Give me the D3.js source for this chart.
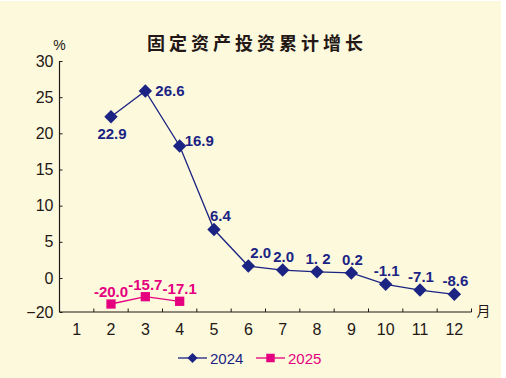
<!DOCTYPE html>
<html>
<head>
<meta charset="utf-8">
<script src="https://cdn.jsdelivr.net/npm/d3@7/dist/d3.min.js"></script>
<style>
  html, body { margin: 0; padding: 0; background: #fff; }
  svg { display: block; }
</style>
</head>
<body>
<svg id="chart"></svg>
<script>
const TITLE = '固定资产投资累计增长'

const months = [1, 2, 3, 4, 5, 6, 7, 8, 9, 10, 11, 12]
const yTicks = [30, 25, 20, 15, 10, 5, 0, -20]

// markers sit where the picture draws them; the printed labels are kept separately
const months2024 = [2, 3, 4, 5, 6, 7, 8, 9, 10, 11, 12]
const values2024 = [22.3, 25.85, 18.25, 6.7, 1.65, 1.1, 0.85, 0.7, -3.7, -7.1, -9.6]
const labels2024 = ['22.9', '26.6', '16.9', '6.4', '2.0', '2.0', '1. 2', '0.2', '-1.1', '-7.1', '-8.6']

const months2025 = [2, 3, 4]
const values2025 = [-15.3, -11.0, -13.7]
const labels2025 = ['-20.0', '-15.7', '-17.1']

const series = [
  { key: '2024', color: '#1b2483', shape: 'diamond', months: months2024, values: values2024, labels: labels2024 },
  { key: '2025', color: '#e4007f', shape: 'square', months: months2025, values: values2025, labels: labels2025 },
]

const width = 506
const height = 378
const margin = { top: 61, right: 34.5, bottom: 66, left: 59.5 }
const bg = '#fdf9dd'
const ink = '#231815'
const font = '"Liberation Sans", Arial, sans-serif'

const svg = d3.select('#chart').attr('width', width).attr('height', height)

svg.append('rect').attr('x', 0).attr('y', 1).attr('width', 501).attr('height', height - 1).attr('fill', bg)

const innerW = width - margin.left - margin.right
const innerH = height - margin.top - margin.bottom

const x = d3.scaleBand().domain(months).range([margin.left, margin.left + innerW]).padding(0)
// broken axis: the -20 tick sits one step below 0
const y = d3.scaleLinear().domain([-20, 0, 30]).range([margin.top + innerH, margin.top + innerH - 34, margin.top])

const g = svg.append('g')

// title and unit
svg.append('text')
  .attr('x', 257).attr('y', 50)
  .attr('text-anchor', 'middle')
  .attr('font-family', '"Noto Sans CJK SC", sans-serif')
  .attr('font-weight', 'bold')
  .attr('font-size', 18)
  .attr('letter-spacing', 4)
  .attr('fill', ink)
  .text(TITLE)

svg.append('text')
  .attr('x', 59.5).attr('y', 50)
  .attr('text-anchor', 'middle')
  .attr('font-family', font)
  .attr('font-size', 14)
  .attr('fill', ink)
  .text('%')

// y axis
const yAxisG = g.append('g').attr('transform', `translate(${margin.left},0)`)
  .call(d3.axisRight(y).tickValues(yTicks).tickSize(3).tickFormat(d3.format('d')))
yAxisG.select('.domain').remove()
yAxisG.selectAll('.tick line').attr('stroke', ink)
yAxisG.selectAll('.tick text')
  .attr('x', -6).attr('text-anchor', 'end')
  .attr('font-family', font).attr('font-size', 16).attr('fill', ink)
g.append('line')
  .attr('x1', margin.left).attr('x2', margin.left)
  .attr('y1', y(30)).attr('y2', y(-20))
  .attr('stroke', ink).attr('stroke-width', 1.2)

// x axis
const xAxisG = g.append('g').attr('transform', `translate(0,${y(-20)})`)
  .call(d3.axisBottom(x).tickSize(0).tickFormat(d3.format('d')))
xAxisG.select('.domain').remove()
xAxisG.selectAll('.tick text')
  .attr('y', 12).attr('dy', '0.71em')
  .attr('font-family', font).attr('font-size', 16).attr('fill', ink)
g.append('line')
  .attr('x1', margin.left).attr('x2', margin.left + innerW)
  .attr('y1', y(-20)).attr('y2', y(-20))
  .attr('stroke', ink).attr('stroke-width', 1.2)
g.selectAll('line.xtick').data(months).join('line')
  .attr('class', 'xtick')
  .attr('x1', (d) => x(d) + x.bandwidth()).attr('x2', (d) => x(d) + x.bandwidth())
  .attr('y1', y(-20)).attr('y2', y(-20) - 3.5)
  .attr('stroke', ink)
svg.append('text')
  .attr('x', margin.left + innerW + 12).attr('y', y(-20) + 4)
  .attr('text-anchor', 'middle')
  .attr('font-family', '"Noto Sans CJK SC", sans-serif')
  .attr('font-size', 14)
  .attr('fill', ink)
  .text('月')

// lines and markers
const line = d3.line().x((d) => d.x).y((d) => d.y)
const diamond = d3.symbol().type(d3.symbolSquare).size(90)
const square = d3.symbol().type(d3.symbolSquare).size(86)

// label placement relative to each marker (2024 series)
function place2024(i) {
  if (i === 0) return { dx: 1, dy: 22, anchor: 'middle' }
  if (i === 1) return { dx: 10, dy: 5, anchor: 'start' }
  if (i === 2) return { dx: 5, dy: 0, anchor: 'start' }
  if (i === 3) return { dx: -4, dy: -9, anchor: 'start' }
  if (i === 4) return { dx: 2, dy: -8, anchor: 'start' }
  return { dx: 1, dy: -8, anchor: 'middle' }
}

for (const s of series) {
  const pts = s.months.map((m, i) => ({
    x: x(m) + x.bandwidth() / 2,
    y: y(s.values[i]),
    label: s.labels[i],
    i,
  }))
  const sg = g.append('g')
  sg.append('path')
    .attr('d', line(pts))
    .attr('fill', 'none')
    .attr('stroke', s.color)
    .attr('stroke-width', 1.3)
  sg.selectAll('path.mark').data(pts).join('path')
    .attr('class', 'mark')
    .attr('d', s.shape === 'diamond' ? diamond : square)
    .attr('transform', (d) => `translate(${d.x},${d.y})` + (s.shape === 'diamond' ? ' rotate(45)' : ''))
    .attr('fill', s.color)
  sg.selectAll('text').data(pts).join('text')
    .each(function (d) {
      const p = s.key === '2024' ? place2024(d.i) : { dx: 0, dy: -7, anchor: 'middle' }
      d3.select(this)
        .attr('x', d.x + p.dx)
        .attr('y', d.y + p.dy)
        .attr('text-anchor', p.anchor)
    })
    .attr('font-family', font)
    .attr('font-weight', 'bold')
    .attr('font-size', 15)
    .attr('fill', s.color)
    .text((d) => d.label)
}

// legend
const legend = svg.append('g').attr('transform', 'translate(178,358)')
series.forEach((s, k) => {
  const lg = legend.append('g').attr('transform', `translate(${k * 78},0)`)
  lg.append('line').attr('x1', 0).attr('x2', 29).attr('y1', 0).attr('y2', 0)
    .attr('stroke', s.color).attr('stroke-width', 1.3)
  lg.append('path')
    .attr('d', d3.symbol().type(d3.symbolSquare).size(s.shape === 'diamond' ? 52 : 72))
    .attr('transform', `translate(14.5,0)` + (s.shape === 'diamond' ? ' rotate(45)' : ''))
    .attr('fill', s.color)
  lg.append('text')
    .attr('x', 32).attr('y', 5.5)
    .attr('font-family', font)
    .attr('font-size', 15)
    .attr('fill', s.color)
    .text(s.key)
})
</script>
</body>
</html>
